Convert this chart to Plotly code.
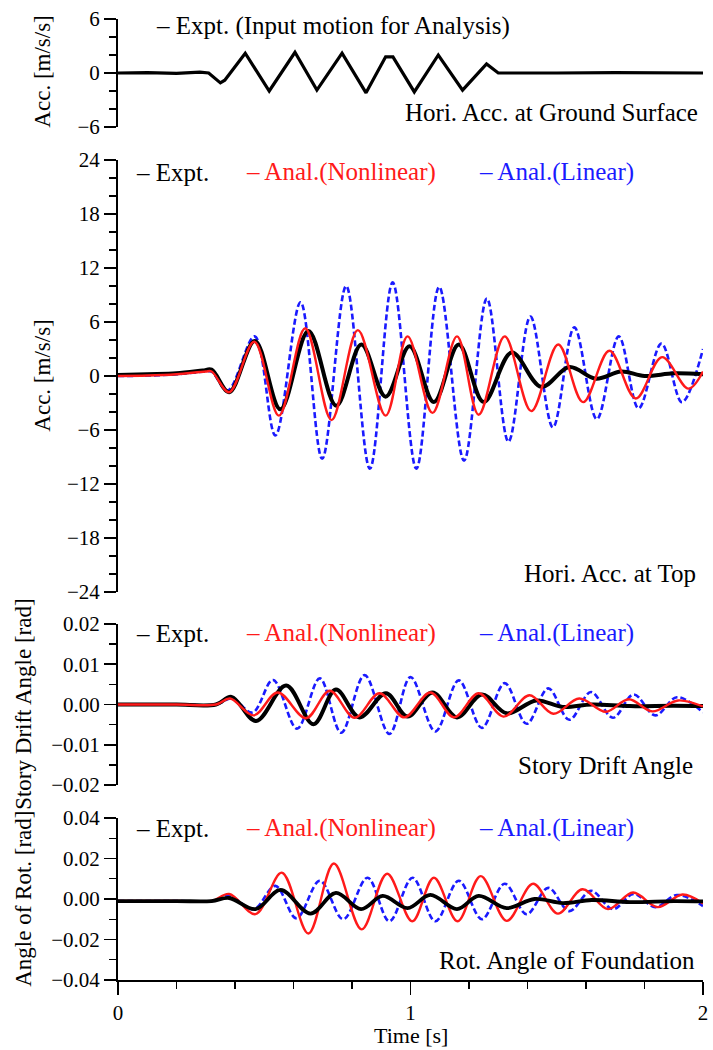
import plotly.graph_objects as go

# ---------------- data ----------------
# Panel 1: horizontal acceleration at ground surface [m/s/s]
t_ground = [0.0, 0.1, 0.2, 0.28, 0.31, 0.35, 0.365, 0.435, 0.517, 0.605, 0.68, 0.766, 0.848,
            0.915, 0.94, 1.013, 1.095, 1.178, 1.26, 1.30, 1.5, 1.7, 2.0]
a_ground = [0.0, 0.05, -0.05, 0.1, 0.0, -1.1, -0.8, 2.2, -2.0, 2.3, -1.9, 2.2, -2.2,
            1.8, 1.8, -2.1, 2.0, -1.9, 1.0, 0.0, 0.0, 0.05, 0.0]

# Panel 2: horizontal acceleration at top [m/s/s]
t_top_exp = [0.0, 0.1, 0.2, 0.29, 0.32, 0.38, 0.468, 0.555, 0.651, 0.746, 0.832, 0.915, 0.997,
             1.08, 1.165, 1.25, 1.346, 1.447, 1.543, 1.634, 1.72, 1.8, 1.9, 2.0]
a_top_exp = [0.1, 0.2, 0.3, 0.6, 0.7, -1.8, 3.9, -3.7, 5.0, -3.3, 3.5, -2.3, 3.3,
             -2.9, 3.5, -2.9, 2.6, -1.2, 1.0, -0.3, 0.5, 0.0, 0.3, 0.2]
t_top_nl = [0.0, 0.1, 0.2, 0.3, 0.32, 0.38, 0.466, 0.55, 0.64, 0.73, 0.82, 0.915, 0.99, 1.075,
            1.159, 1.233, 1.322, 1.413, 1.505, 1.59, 1.68, 1.77, 1.86, 1.95, 2.0]
a_top_nl = [0.0, 0.05, 0.2, 0.5, 0.5, -1.8, 3.8, -4.4, 5.3, -4.9, 5.1, -4.4, 4.4, -4.1,
            4.4, -4.3, 4.4, -3.9, 3.5, -2.9, 2.8, -2.5, 2.1, -1.4, 0.5]
t_top_lin = [0.0, 0.1, 0.2, 0.3, 0.32, 0.375, 0.467, 0.538, 0.624, 0.698, 0.78, 0.861, 0.939,
             1.02, 1.098, 1.183, 1.261, 1.335, 1.41, 1.487, 1.56, 1.637, 1.712, 1.78, 1.858,
             1.928, 2.0]
a_top_lin = [0.0, 0.05, 0.2, 0.5, 0.5, -1.6, 4.4, -6.6, 8.2, -9.2, 10.0, -10.3, 10.4,
             -10.3, 9.9, -9.4, 8.6, -7.3, 6.6, -5.7, 5.4, -4.8, 4.4, -3.6, 3.6,
             -2.9, 3.0]

# Panel 3: story drift angle [rad]
t_sd_exp = [0.0, 0.1, 0.2, 0.335, 0.388, 0.472, 0.575, 0.668, 0.745, 0.826, 0.916, 0.99, 1.075,
            1.159, 1.244, 1.329, 1.43, 1.52, 1.62, 1.75, 1.9, 2.0]
d_sd_exp = [0.0, 0.0, 0.0, 0.0, 0.0019, -0.0041, 0.0047, -0.0049, 0.0037, -0.0032, 0.0028,
            -0.003, 0.003, -0.0032, 0.0025, -0.0022, 0.001, -0.0006, 0.0, -0.0004, -0.0003,
            -0.0004]
t_sd_nl = [0.0, 0.2, 0.335, 0.383, 0.464, 0.546, 0.643, 0.724, 0.809, 0.894, 0.979, 1.068,
           1.149, 1.233, 1.318, 1.407, 1.488, 1.577, 1.668, 1.746, 1.827, 1.915, 2.0]
d_sd_nl = [0.0, 0.0, 0.0, 0.0015, -0.0027, 0.003, -0.0034, 0.0034, -0.0033, 0.0028, -0.0032,
           0.003, -0.0032, 0.0028, -0.003, 0.0023, -0.0023, 0.0015, -0.0018, 0.0013, -0.0017,
           0.001, -0.0005]
t_sd_lin = [0.0, 0.2, 0.335, 0.39, 0.46, 0.53, 0.612, 0.69, 0.763, 0.843, 0.928, 1.0, 1.085,
            1.165, 1.244, 1.322, 1.397, 1.471, 1.543, 1.617, 1.692, 1.763, 1.837, 1.911, 2.0]
d_sd_lin = [0.0, 0.0, 0.0, 0.0015, -0.002, 0.0061, -0.006, 0.0065, -0.007, 0.0073, -0.0073,
            0.0068, -0.0067, 0.006, -0.0058, 0.0053, -0.0048, 0.004, -0.0038, 0.0031, -0.0033,
            0.0025, -0.0027, 0.0018, -0.002]

# Panel 4: rotation angle of foundation [rad]
t_rot_exp = [0.0, 0.2, 0.32, 0.38, 0.47, 0.556, 0.658, 0.745, 0.831, 0.905, 0.99, 1.068, 1.159,
             1.233, 1.329, 1.424, 1.52, 1.62, 1.75, 1.9, 2.0]
r_rot_exp = [-0.001, -0.001, -0.001, 0.0005, -0.005, 0.0045, -0.0072, 0.003, -0.005, 0.0015,
             -0.0045, 0.002, -0.005, 0.0015, -0.0045, 0.0, -0.002, -0.0005, -0.0015, -0.001,
             -0.0012]
t_rot_nl = [0.0, 0.2, 0.32, 0.38, 0.47, 0.56, 0.651, 0.738, 0.833, 0.92, 1.006, 1.08, 1.161,
            1.24, 1.329, 1.419, 1.504, 1.588, 1.675, 1.761, 1.845, 1.93, 2.0]
r_rot_nl = [-0.001, -0.001, -0.001, 0.0025, -0.0075, 0.013, -0.017, 0.0175, -0.015, 0.0125,
            -0.011, 0.0105, -0.011, 0.0113, -0.0108, 0.0075, -0.0072, 0.0048, -0.005, 0.0032,
            -0.004, 0.0022, -0.0022]
t_rot_lin = [0.0, 0.2, 0.32, 0.38, 0.464, 0.538, 0.61, 0.69, 0.77, 0.853, 0.928, 1.007, 1.085,
             1.165, 1.244, 1.322, 1.397, 1.471, 1.543, 1.617, 1.692, 1.763, 1.837, 1.911, 2.0]
r_rot_lin = [-0.001, -0.001, -0.001, 0.0015, -0.005, 0.0065, -0.0095, 0.009, -0.01, 0.0105,
             -0.011, 0.0105, -0.011, 0.009, -0.01, 0.0075, -0.0075, 0.0055, -0.006, 0.004,
             -0.005, 0.0025, -0.004, 0.002, -0.0035]

# Axis ticks
x_ticks = [0, 1, 2]
x_ticklabels = ["0", "1", "2"]

# Texts
legend_ground = "– Expt. (Input motion for Analysis)"
legend_items = ["– Expt.", "– Anal.(Nonlinear)", "– Anal.(Linear)"]
panel_titles = ["Hori. Acc. at Ground Surface", "Hori. Acc. at Top",
                "Story Drift Angle", "Rot. Angle of Foundation"]
y_titles = ["Acc. [m/s/s]", "Acc. [m/s/s]", "Story Drift Angle [rad]", "Angle of Rot. [rad]"]
x_title = "Time [s]"

# ---------------- styling ----------------
FONT = "Liberation Serif, Times New Roman, serif"
BLACK = "#000000"
RED = "#ff1a1a"
BLUE = "#1a1aff"
DASH = "6px,3px"

fig = go.Figure()

def add(t, v, yax, color, width, dash="solid", shape="spline"):
    fig.add_trace(go.Scatter(x=t, y=v, xaxis="x", yaxis=yax, mode="lines",
                             line=dict(color=color, width=width, dash=dash, shape=shape,
                                       smoothing=1.0),
                             hoverinfo="skip", showlegend=False))

add(t_ground, a_ground, "y", BLACK, 3.2, shape="linear")

add(t_top_lin, a_top_lin, "y2", BLUE, 2.6, DASH)
add(t_top_exp, a_top_exp, "y2", BLACK, 4.0)
add(t_top_nl, a_top_nl, "y2", RED, 2.4)

add(t_sd_lin, d_sd_lin, "y3", BLUE, 2.6, DASH)
add(t_sd_exp, d_sd_exp, "y3", BLACK, 4.0)
add(t_sd_nl, d_sd_nl, "y3", RED, 2.4)

add(t_rot_lin, r_rot_lin, "y4", BLUE, 2.6, DASH)
add(t_rot_nl, r_rot_nl, "y4", RED, 2.4)
add(t_rot_exp, r_rot_exp, "y4", BLACK, 3.8)

# Layout geometry (pixels -> paper)
W, H = 713, 1050
ML, MR, MT, MB = 118, 5, 19, 70
PW = W - ML - MR
PH = H - MT - MB

def py(p):  # pixel y -> paper y
    return (H - MB - p) / PH

def px(p):  # pixel x -> paper x
    return (p - ML) / PW

tickfont = dict(family=FONT, size=21, color=BLACK)

def yaxis(domain, rng, dtick, minor_dtick, fmt=None):
    d = dict(domain=domain, range=rng, anchor="x", showline=True, linecolor=BLACK,
             linewidth=2, ticks="outside", ticklen=12, tickwidth=1.6, tickcolor=BLACK,
             tickmode="linear", tick0=0, dtick=dtick, showgrid=False, zeroline=False,
             tickfont=tickfont, fixedrange=True, ticklabeloverflow="allow",
             minor=dict(dtick=minor_dtick, tick0=0, ticks="outside", ticklen=7,
                        tickwidth=1.4, tickcolor=BLACK, showgrid=False))
    if fmt:
        d["tickformat"] = fmt
    return d

fig.update_layout(
    width=W, height=H,
    margin=dict(l=ML, r=MR, t=MT, b=MB),
    paper_bgcolor="white", plot_bgcolor="white",
    showlegend=False,
    xaxis=dict(domain=[0, 1], range=[0, 2], anchor="y4", showline=True, linecolor=BLACK,
               linewidth=2, ticks="outside", ticklen=13, tickwidth=1.8, tickcolor=BLACK,
               tickmode="array", tickvals=x_ticks, ticktext=x_ticklabels,
               showgrid=False, zeroline=False, tickfont=tickfont, fixedrange=True,
               ticklabeloverflow="allow",
               minor=dict(dtick=0.2, tick0=0, ticks="outside", ticklen=7, tickwidth=1.4,
                          tickcolor=BLACK, showgrid=False)),
    yaxis=yaxis([py(127), py(19)], [-6, 6], 6, 2),
    yaxis2=yaxis([py(592), py(160)], [-24, 24], 6, 2),
    yaxis3=yaxis([py(785), py(624)], [-0.02, 0.02], 0.01, 0.005, ".2f"),
    yaxis4=yaxis([py(980), py(818)], [-0.04, 0.04], 0.02, 0.01, ".2f"),
)

TXT = 25
ann = []

def text(s, x, y, color=BLACK, xanchor="center", size=TXT, angle=0):
    ann.append(dict(text=s, x=x, y=y, xref="paper", yref="paper", xanchor=xanchor,
                    yanchor="middle", showarrow=False, textangle=angle,
                    font=dict(family=FONT, size=size, color=color)))

# Legends
text(legend_ground, px(335), py(26))
legend_colors = [BLACK, RED, BLUE]
legend_centers = [173, 343, 560]
for ly in (172, 633, 828):
    for s, c, cx in zip(legend_items, legend_colors, legend_centers):
        text(s, px(cx), py(ly), color=c)

# Panel titles (right aligned)
for s, (rx, ry) in zip(panel_titles, [(705, 112), (703, 573), (700, 765), (702, 960)]):
    text(s, px(rx), py(ry), xanchor="right")

# Y axis titles
for s, (cx, cy) in zip(y_titles, [(42, 72), (41, 376), (22, 704), (22, 899)]):
    text(s, px(cx), py(cy), angle=-90, size=23)

# X axis title
text(x_title, px(413), py(1035), size=22)

fig.update_layout(annotations=ann)

fig.write_html("out.html", config={"displayModeBar": False, "staticPlot": True})

# remove the default page margin so the figure sits at the window origin
with open("out.html", "r", encoding="utf-8") as f:
    html = f.read()
html = html.replace("<head>", "<head><style>html,body{margin:0;padding:0;overflow:hidden;}</style>", 1)
with open("out.html", "w", encoding="utf-8") as f:
    f.write(html)
